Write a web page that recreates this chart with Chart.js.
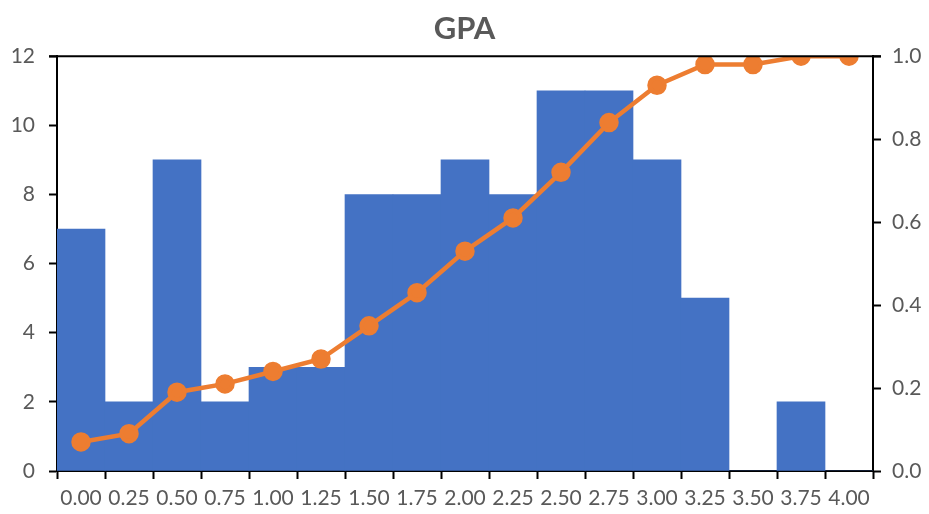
<!DOCTYPE html>
<html>
<head>
<meta charset="utf-8">
<script src="https://cdn.jsdelivr.net/npm/chart.js@4/dist/chart.umd.min.js"></script>
<style>
  body { margin: 0; background: #fff; }
  #caja { width: 929px; height: 514px; }
</style>
</head>
<body>
<div id="caja"><canvas id="miGrafico"></canvas></div>
<script>
// datos
const etiquetas = ['0.00', '0.25', '0.50', '0.75', '1.00', '1.25', '1.50', '1.75', '2.00',
                   '2.25', '2.50', '2.75', '3.00', '3.25', '3.50', '3.75', '4.00'];
const frecuencias = [7, 2, 9, 2, 3, 3, 8, 8, 9, 8, 11, 11, 9, 5, 0, 2, 0];
const acumulado = [0.07, 0.09, 0.19, 0.21, 0.24, 0.27, 0.35, 0.43, 0.53,
                   0.61, 0.72, 0.84, 0.93, 0.98, 0.98, 1.0, 1.0];
const ticksIzq = [0, 2, 4, 6, 8, 10, 12];
const ticksDer = [0, 0.2, 0.4, 0.6, 0.8, 1.0];

const gris = '#595959';
const fuente = 'Lato, "Open Sans", sans-serif';

// linea superior del marco
const bordeSuperior = {
    id: 'bordeSuperior',
    afterDraw(chart) {
        const { ctx, chartArea } = chart;
        ctx.save();
        ctx.strokeStyle = '#000';
        ctx.lineWidth = 2;
        ctx.beginPath();
        ctx.moveTo(chartArea.left - 8, chartArea.top);
        ctx.lineTo(chartArea.right + 8, chartArea.top);
        ctx.stroke();
        ctx.restore();
    }
};

const contexto = document.getElementById('miGrafico').getContext('2d');
new Chart(contexto, {
    data: {
        labels: etiquetas,
        datasets: [
            {
                type: 'line',
                data: acumulado,
                yAxisID: 'y1',
                borderColor: '#ED7D31',
                backgroundColor: '#ED7D31',
                borderWidth: 4.5,
                pointRadius: 7.5,
                pointHoverRadius: 7.5,
                tension: 0,
                order: 0
            },
            {
                type: 'bar',
                data: frecuencias,
                yAxisID: 'y',
                backgroundColor: '#4472C4',
                barPercentage: 1,
                categoryPercentage: 1,
                order: 1
            }
        ]
    },
    options: {
        responsive: true,
        maintainAspectRatio: false,
        animation: false,
        plugins: {
            legend: { display: false },
            tooltip: { enabled: false },
            title: {
                display: true,
                text: 'GPA',
                color: gris,
                font: { family: fuente, size: 31, weight: 'bold' },
                padding: { top: 10, bottom: 9 }
            }
        },
        scales: {
            x: {
                offset: true,
                grid: {
                    offset: true,
                    drawOnChartArea: false,
                    drawTicks: true,
                    tickLength: 8,
                    tickWidth: 2,
                    tickColor: '#000'
                },
                border: { color: '#000', width: 2 },
                ticks: {
                    color: gris,
                    font: { family: fuente, size: 21 },
                    padding: 7,
                    maxRotation: 0,
                    autoSkip: false
                },
                afterFit(escala) { escala.height = 43; }
            },
            y: {
                position: 'left',
                min: 0,
                max: 12,
                afterBuildTicks(escala) { escala.ticks = ticksIzq.map(v => ({ value: v })); },
                grid: {
                    drawOnChartArea: false,
                    tickLength: 8,
                    tickWidth: 2,
                    tickColor: '#000'
                },
                border: { color: '#000', width: 2 },
                ticks: {
                    color: gris,
                    font: { family: fuente, size: 21 },
                    padding: 14
                },
                afterFit(escala) { escala.width = 57; }
            },
            y1: {
                position: 'right',
                min: 0,
                max: 1,
                afterBuildTicks(escala) { escala.ticks = ticksDer.map(v => ({ value: v })); },
                grid: {
                    drawOnChartArea: false,
                    tickLength: 8,
                    tickWidth: 2,
                    tickColor: '#000'
                },
                border: { color: '#000', width: 2 },
                ticks: {
                    color: gris,
                    font: { family: fuente, size: 21 },
                    padding: 11,
                    callback: v => Number(v).toFixed(1)
                },
                afterFit(escala) { escala.width = 56; }
            }
        }
    },
    plugins: [bordeSuperior]
});
</script>
</body>
</html>
